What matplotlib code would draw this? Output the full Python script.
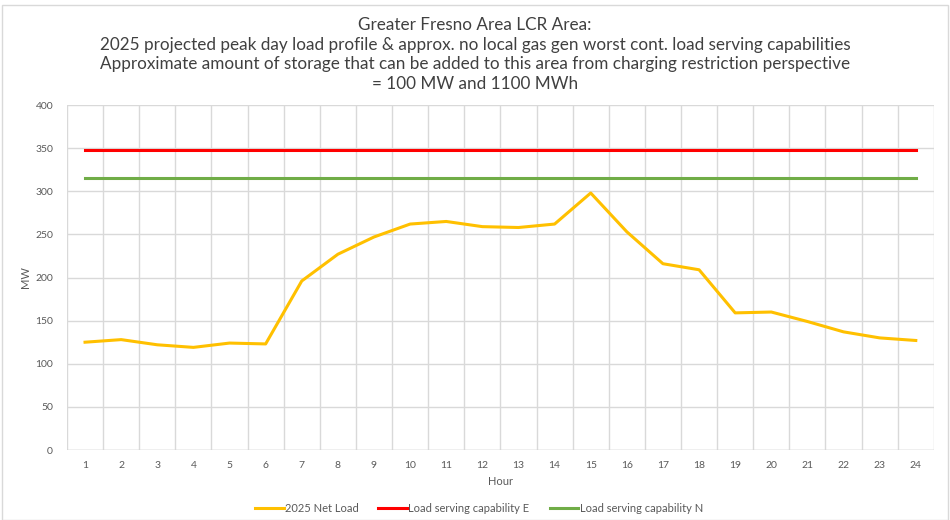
import matplotlib.pyplot as plt
import matplotlib.patches as patches
import numpy as np

hours = list(range(1, 25))
net_load = [125, 128, 122, 119, 124, 123, 196, 227, 247, 262, 265, 259,
            258, 262, 298, 253, 216, 209, 159, 160, 149, 137, 130, 127]
cap_e = [348] * 24
cap_n = [315] * 24

title = ("Greater Fresno Area LCR Area:\n"
         "2025 projected peak day load profile & approx. no local gas gen worst cont. load serving capabilities\n"
         "Approximate amount of storage that can be added to this area from charging restriction perspective\n"
         "= 100 MW and 1100 MWh")

plt.rcParams['font.family'] = ['Lato', 'DejaVu Sans']

fig = plt.figure(figsize=(9.5, 5.2), dpi=100)
ax = fig.add_axes([0.0705, 0.1346, 0.9125, 0.6634])

ax.plot(hours, net_load, color="#FFC000", linewidth=2.2, label="2025 Net Load")
ax.plot(hours, cap_e, color="#FF0000", linewidth=2.2, label="Load serving capability E")
ax.plot(hours, cap_n, color="#70AD47", linewidth=2.2, label="Load serving capability N")

ax.set_xlim(0.5, 24.5)
ax.set_ylim(0, 400)
ax.set_xticks(hours)
ax.set_xticks(np.arange(0.5, 25, 1), minor=True)
ax.set_yticks(range(0, 401, 50))
ax.tick_params(axis="both", which="both", length=0, labelsize=7.5, colors="#595959")
ax.tick_params(axis="x", pad=8)
ax.tick_params(axis="y", pad=10)
ax.grid(which="minor", axis="x", color="#d9d9d9", linewidth=1)
ax.grid(which="major", axis="y", color="#d9d9d9", linewidth=1)
for s in ax.spines.values():
    s.set_visible(False)
ax.axhline(0, color="#d0d0d0", linewidth=1)

ax.set_xlabel("Hour", fontsize=8, color="#595959", labelpad=4)
ax.set_ylabel("MW", fontsize=8, color="#595959", labelpad=3)

fig.text(0.5, 0.968, title, ha="center", va="top", fontsize=12.3,
         color="#404040", linespacing=1.3)

ax.legend(loc="upper center", bbox_to_anchor=(0.475, -0.125), ncol=3, frameon=False,
          fontsize=8, labelcolor="#595959", handlelength=2.6, handletextpad=0.1,
          columnspacing=1.8)

fig.patches.append(patches.Rectangle((2 / 950, 0), 946 / 950, 515 / 520,
                                     transform=fig.transFigure, fill=False,
                                     edgecolor="#d9d9d9", linewidth=1))

fig.savefig("out.png", dpi=100)
